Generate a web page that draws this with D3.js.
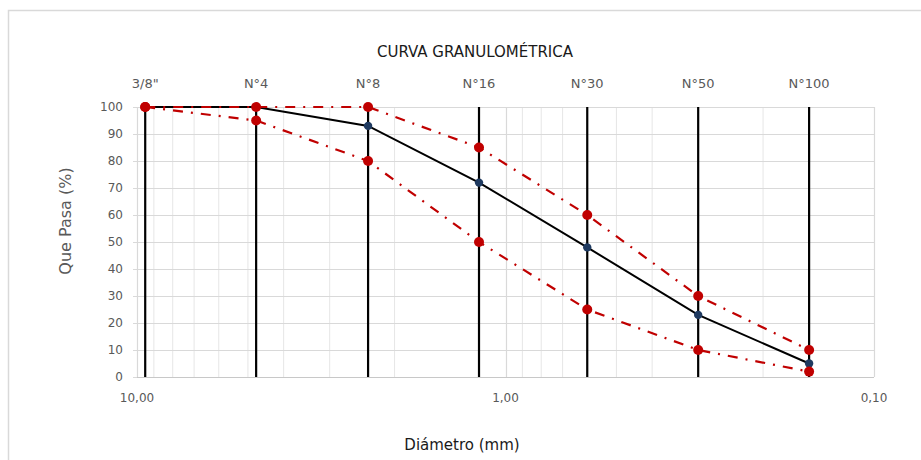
<!DOCTYPE html>
<html>
<head>
<meta charset="utf-8">
<script src="https://cdn.jsdelivr.net/npm/d3@7"></script>
<style>
  html, body { margin: 0; padding: 0; background: #fff; }
  svg { display: block; font-family: "DejaVu Sans", sans-serif; }
</style>
</head>
<body>
<svg id="chart" width="921" height="460"></svg>
<script>
// Sieve series (ASTM) and grading results
const sieves      = ['3/8"', 'N°4', 'N°8', 'N°16', 'N°30', 'N°50', 'N°100'];
const openings    = [9.5, 4.75, 2.36, 1.18, 0.6, 0.3, 0.15];   // mm
const passing     = [100, 100, 93, 72, 48, 23, 5];              // % que pasa
const upperLimit  = [100, 100, 100, 85, 60, 30, 10];
const lowerLimit  = [100, 95, 80, 50, 25, 10, 2];
const yTicks      = [0, 10, 20, 30, 40, 50, 60, 70, 80, 90, 100];
const xTicks      = [10, 1, 0.1];
const xTickLabels = ["10,00", "1,00", "0,10"];

const svg = d3.select("#chart");

// outer chart frame
svg.append("rect")
  .attr("x", 8.5).attr("y", 10.5)
  .attr("width", 930).attr("height", 470)
  .attr("fill", "none").attr("stroke", "#d9d9d9").attr("stroke-width", 1.5);

const plot = { left: 137, right: 874, top: 107, bottom: 377 };

const x = d3.scaleLog().domain([10, 0.1]).range([plot.left, plot.right]);
const y = d3.scaleLinear().domain([0, 100]).range([plot.bottom, plot.top]);

const g = svg.append("g");

// minor vertical gridlines (2..9 in each decade)
const minor = [];
[1, 0.1].forEach(base => { for (let k = 2; k <= 9; k++) minor.push(+(k * base).toFixed(2)); });
g.append("g").selectAll("line").data(minor).join("line")
  .attr("x1", d => x(d)).attr("x2", d => x(d))
  .attr("y1", plot.top).attr("y2", plot.bottom)
  .attr("stroke", "#e6e6e6").attr("stroke-width", 1);

// horizontal gridlines with short outside ticks
g.append("g").selectAll("line").data(yTicks).join("line")
  .attr("x1", plot.left - 4).attr("x2", plot.right)
  .attr("y1", d => Math.round(y(d)) + 0.5).attr("y2", d => Math.round(y(d)) + 0.5)
  .attr("stroke", "#d9d9d9").attr("stroke-width", 1.2);

// major vertical gridlines (decades)
g.append("g").selectAll("line").data(xTicks).join("line")
  .attr("x1", d => Math.round(x(d)) + 0.5).attr("x2", d => Math.round(x(d)) + 0.5)
  .attr("y1", plot.top).attr("y2", plot.bottom)
  .attr("stroke", "#d9d9d9").attr("stroke-width", 1.2);

// bottom axis line
g.append("line")
  .attr("x1", plot.left).attr("x2", plot.right)
  .attr("y1", plot.bottom + 0.5).attr("y2", plot.bottom + 0.5)
  .attr("stroke", "#c8c8c8").attr("stroke-width", 1.2);

// sieve verticals
g.append("g").selectAll("line").data(openings).join("line")
  .attr("x1", d => x(d)).attr("x2", d => x(d))
  .attr("y1", y(100)).attr("y2", y(0))
  .attr("stroke", "#000").attr("stroke-width", 2.2);

// y tick labels
svg.append("g").selectAll("text").data(yTicks).join("text")
  .attr("x", 123).attr("y", d => y(d))
  .attr("dy", "0.36em")
  .attr("text-anchor", "end")
  .attr("font-size", 12)
  .attr("fill", "#595959")
  .text(d => d);

// x tick labels
svg.append("g").selectAll("text").data(xTicks).join("text")
  .attr("x", d => x(d)).attr("y", 402)
  .attr("text-anchor", "middle")
  .attr("font-size", 12)
  .attr("fill", "#595959")
  .text((d, i) => xTickLabels[i]);

// sieve labels along the top
svg.append("g").selectAll("text").data(sieves).join("text")
  .attr("x", (d, i) => x(openings[i])).attr("y", 88)
  .attr("text-anchor", "middle")
  .attr("font-size", 13)
  .attr("fill", "#595959")
  .text(d => d);

// title and axis titles
svg.append("text")
  .attr("x", 475).attr("y", 57)
  .attr("text-anchor", "middle")
  .attr("font-size", 15)
  .attr("fill", "#1a1a1a")
  .text("CURVA GRANULOMÉTRICA");

svg.append("text")
  .attr("transform", "translate(71,221) rotate(-90)")
  .attr("text-anchor", "middle")
  .attr("font-size", 16)
  .attr("fill", "#595959")
  .text("Que Pasa (%)");

svg.append("text")
  .attr("x", 462).attr("y", 450)
  .attr("text-anchor", "middle")
  .attr("font-size", 15)
  .attr("fill", "#1a1a1a")
  .text("Diámetro (mm)");

const line = d3.line().x(d => x(d[0])).y(d => y(d[1]));
const pairs = vals => openings.map((o, i) => [o, vals[i]]);

// grading curve
g.append("path")
  .datum(pairs(passing))
  .attr("d", line)
  .attr("fill", "none").attr("stroke", "#000").attr("stroke-width", 2);
g.append("g").selectAll("circle").data(pairs(passing)).join("circle")
  .attr("cx", d => x(d[0])).attr("cy", d => y(d[1])).attr("r", 4.2)
  .attr("fill", "#1f3a60");

// specification limits
[upperLimit, lowerLimit].forEach(vals => {
  g.append("path")
    .datum(pairs(vals))
    .attr("d", line)
    .attr("fill", "none").attr("stroke", "#c00000").attr("stroke-width", 2.2)
    .attr("stroke-dasharray", "10,8,2,8");
  g.append("g").selectAll("circle").data(pairs(vals)).join("circle")
    .attr("cx", d => x(d[0])).attr("cy", d => y(d[1])).attr("r", 5)
    .attr("fill", "#c00000");
});
</script>
</body>
</html>
